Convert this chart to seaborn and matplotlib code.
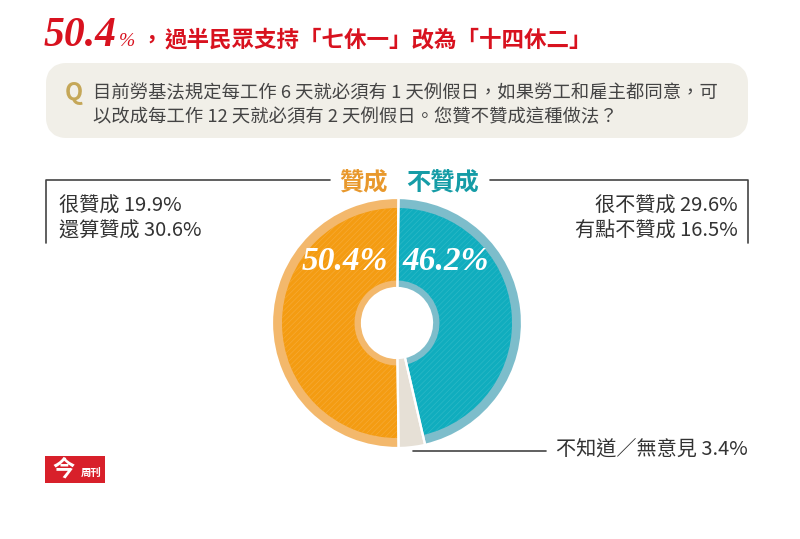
"""
Poll donut: support for changing the weekly rest day rule
"""
import matplotlib
matplotlib.use('Agg')
import matplotlib.pyplot as plt
from matplotlib.patches import FancyBboxPatch, Rectangle
import seaborn as sns

# Data
SLICE_LABELS = ['不贊成', '不知道／無意見', '贊成']
SLICE_VALUES = [46.2, 3.4, 50.4]
MAIN_COLORS = ['#10adbe', '#e6e0d6', '#f49c12']
LIGHT_COLORS = ['#7dbdcb', '#e6e0d6', '#f3b86c']
STRIPE_COLORS = ['#2cb8c6', '#e6e0d6', '#f6aa35']

LEFT_DETAILS = ['很贊成 19.9%', '還算贊成 30.6%']
RIGHT_DETAILS = ['很不贊成 29.6%', '有點不贊成 16.5%']
UNKNOWN_LABEL = '不知道／無意見 3.4%'
TITLE_TEXT = '過半民眾支持「七休一」改為「十四休二」'
QUESTION_LINES = ['目前勞基法規定每工作 6 天就必須有 1 天例假日，如果勞工和雇主都同意，可',
                  '以改成每工作 12 天就必須有 2 天例假日。您贊不贊成這種做法？']

CJK = ['Noto Sans CJK TC', 'DejaVu Sans']
SERIF = ['Liberation Serif', 'DejaVu Serif']
RED = '#d8121f'
ORANGE = '#e8982c'
TEAL = '#159ca6'
LINE = '#444444'

sns.set_theme(style='white')
plt.rcParams['font.family'] = CJK
plt.rcParams['hatch.linewidth'] = 0.5

W, H = 800, 539
fig = plt.figure(figsize=(W / 100, H / 100), dpi=100, facecolor='white')

# Full-figure layer in pixel coordinates for the text and rules
bg = fig.add_axes([0, 0, 1, 1])
bg.set_xlim(0, W)
bg.set_ylim(H, 0)
bg.axis('off')

# Title
bg.text(44, 36, '50.4', family=SERIF, fontsize=30, fontweight='bold', style='italic',
        color=RED, va='center', ha='left')
bg.text(119, 42, '%', family=SERIF, fontsize=14, style='italic', color=RED, va='center')
bg.text(140, 40, '，', fontsize=16, fontweight='bold', color=RED, va='center')
bg.text(165, 40, TITLE_TEXT, fontsize=16.2, fontweight='bold', color=RED, va='center')

# Question box
bg.add_patch(FancyBboxPatch((56, 73), 682, 55, boxstyle='round,pad=0,rounding_size=10',
                            mutation_aspect=1, linewidth=14.4, edgecolor='#f1efe8',
                            facecolor='#f1efe8', joinstyle='round', capstyle='round'))
bg.text(74, 93, 'Q', fontsize=17, fontweight='bold', color='#c5a758', va='center', ha='center')
for line, y in zip(QUESTION_LINES, [93, 117]):
    bg.text(93, y, line, fontsize=13.2, color='#444444', va='center')

# Header and brackets
bg.text(363, 182, '贊成', fontsize=17.5, fontweight='bold', color=ORANGE, va='center', ha='center')
bg.text(443, 182, '不贊成', fontsize=17.5, fontweight='bold', color=TEAL, va='center', ha='center')
bg.plot([46, 46, 330], [243, 180, 180], color=LINE, lw=1.2)
bg.plot([490, 748, 748], [180, 180, 243], color=LINE, lw=1.2)

for text, y in zip(LEFT_DETAILS, [206, 231]):
    bg.text(59, y, text, fontsize=14.5, color='#333333', va='center', ha='left')
for text, y in zip(RIGHT_DETAILS, [206, 231]):
    bg.text(738, y, text, fontsize=14.5, color='#333333', va='center', ha='right')

# Leader for the small slice
bg.plot([413, 546], [451, 451], color=LINE, lw=1.2)
bg.text(748, 449, UNKNOWN_LABEL, fontsize=14.5, color='#333333', va='center', ha='right')

# Logo
bg.add_patch(Rectangle((45, 456), 60, 27, facecolor='#d8202a', edgecolor='none'))
bg.text(64, 469, '今', fontsize=16, fontweight='bold', color='white', va='center', ha='center')
bg.text(91, 473, '周刊', fontsize=7.5, fontweight='bold', color='white', va='center', ha='center')

# Donut
cx, cy, r = 397, 323, 125
ax = fig.add_axes([(cx - r) / W, 1 - (cy + r) / H, 2 * r / W, 2 * r / H])
ax.patch.set_alpha(0)
pie_args = dict(startangle=89.3, counterclock=False)

# outer and inner pale rings
ax.pie(SLICE_VALUES, radius=1.0, colors=LIGHT_COLORS,
       wedgeprops=dict(width=1.0 - 0.28, linewidth=0), **pie_args)
# striped main band
main, _ = ax.pie(SLICE_VALUES, radius=0.92, colors=MAIN_COLORS,
                 wedgeprops=dict(width=0.92 - 0.34, linewidth=0), **pie_args)
for wedge, stripe in zip(main, STRIPE_COLORS):
    wedge.set_hatch('//////')
    wedge.set_edgecolor(stripe)
# white slice gaps on top
ax.pie(SLICE_VALUES, radius=1.0, colors=['none'] * len(SLICE_VALUES),
       wedgeprops=dict(width=1.0 - 0.28, linewidth=1.6, edgecolor='white'), **pie_args)
ax.set_xlim(-1.0, 1.0)
ax.set_ylim(-1.0, 1.0)

bg.set_zorder(2)
bg.text(345, 262, '50.4%', family=SERIF, fontsize=24, fontweight='bold', style='italic',
        color='white', va='center', ha='center')
bg.text(446, 262, '46.2%', family=SERIF, fontsize=24, fontweight='bold', style='italic',
        color='white', va='center', ha='center')

fig.savefig('out.png', dpi=100, facecolor='white')
